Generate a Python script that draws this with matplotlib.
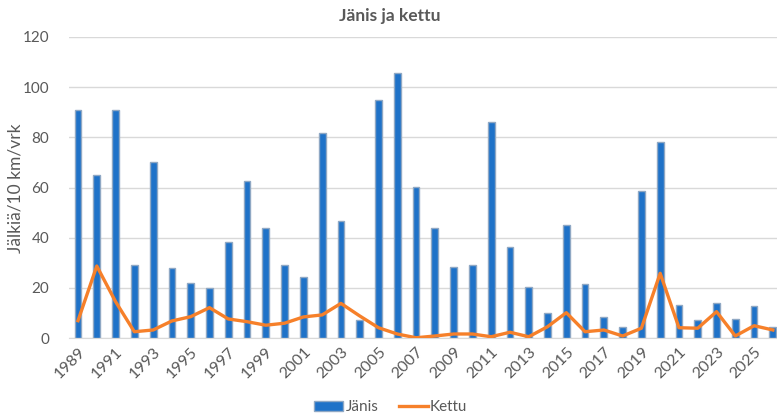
import numpy as np
import matplotlib.pyplot as plt

plt.rcParams['font.family'] = ['Lato', 'DejaVu Sans']

years = list(range(1989, 2027))
janis = [91, 65, 91, 29, 70, 28, 22, 20, 38.3, 62.5, 44, 29, 24.2,
         81.6, 46.6, 7.2, 95, 105.8, 60.1, 44, 28.2, 29, 86.3, 36.2,
         20.5, 10, 44.9, 21.5, 8.2, 4.3, 58.6, 78.2, 13.3, 7, 14.1,
         7.4, 12.8, 4.3]
kettu = [6.9, 28.7, 14.5, 2.5, 3.2, 6.8, 8.5, 12.1, 7.6, 6.5, 5.1, 5.9,
         8.4, 9.2, 13.8, 8.8, 4.1, 1.6, 0.1, 0.8, 1.6, 1.6, 0.5, 2.3,
         0.5, 4.5, 10.1, 2.5, 3.2, 0.8, 3.9, 25.8, 4.1, 3.9, 10.5, 0.8,
         4.9, 3.2]

txt = '#595959'
x = np.arange(len(years))

fig = plt.figure(figsize=(7.77, 4.19), dpi=100)
ax = fig.add_axes([0.0883, 0.1933, 0.9117, 0.7184])

bars = ax.bar(x, janis, width=0.36, color='#1F72C8', edgecolor='#8FA8C4',
              linewidth=1.0, label='Jänis', zorder=2)
line, = ax.plot(x, kettu, color='#F6802A', linewidth=2.4, label='Kettu',
                solid_joinstyle='round', zorder=3)

ax.set_xlim(-0.5, 37.22)
ax.set_ylim(0, 120)
ax.set_yticks(range(0, 121, 20))
ax.grid(axis='y', color='#D9D9D9', linewidth=1.0, zorder=0)
ax.set_axisbelow(True)

ax.set_xticks(x[::2])
ax.set_xticklabels([str(y) for y in years[::2]], rotation=45, ha='right',
                   rotation_mode='anchor', fontsize=11.5, color=txt)
ax.tick_params(axis='y', labelsize=11, colors=txt, length=0, pad=14)
ax.tick_params(axis='x', length=0, pad=5)

for s in ['top', 'right', 'left']:
    ax.spines[s].set_visible(False)
ax.spines['bottom'].set_color('#D9D9D9')

fig.text(0.02, 0.551, 'Jälkiä/10 km/vrk', rotation=90, ha='center',
         va='center', fontsize=12.5, color=txt)
fig.text(0.502, 0.962, 'Jänis ja kettu', ha='center', va='center',
         fontsize=12.5, fontweight='bold', color=txt)

fig.legend([bars, line], ['Jänis', 'Kettu'], loc='center',
           bbox_to_anchor=(0.503, 0.028), ncol=2, frameon=False,
           fontsize=11, labelcolor=txt, handlelength=1.9, handleheight=0.6,
           handletextpad=0.15, columnspacing=1.3, borderpad=0.1)

fig.savefig('out.png', dpi=100)
